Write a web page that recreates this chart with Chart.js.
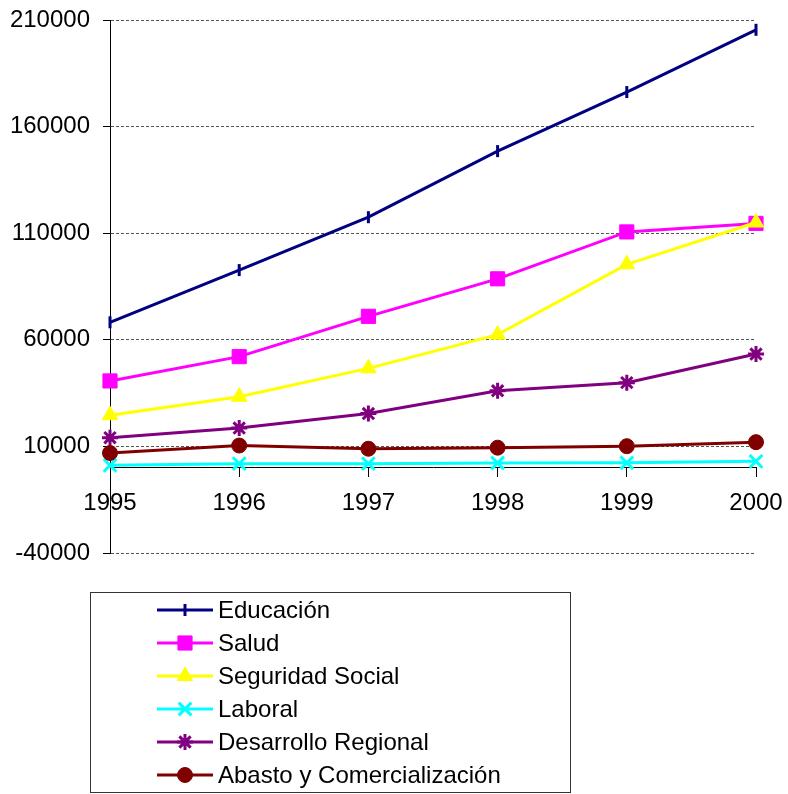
<!DOCTYPE html>
<html>
<head>
<meta charset="utf-8">
<script src="https://cdn.jsdelivr.net/npm/chart.js@4/dist/chart.umd.min.js"></script>
<style>
  html, body { margin: 0; padding: 0; background: #fff; }
  #chart { display: block; }
</style>
</head>
<body>
<canvas id="chart" width="788" height="794"></canvas>
<script>
// Data
const years = ['1995', '1996', '1997', '1998', '1999', '2000'];
const yTicks = [-40000, 10000, 60000, 110000, 160000, 210000];

const educacion = [68200, 92700, 117500, 148500, 176200, 205400];
const salud = [40700, 52100, 71000, 88600, 110600, 114600];
const seguridadSocial = [24600, 33300, 46600, 62400, 95400, 115000];
const laboral = [1100, 1900, 1900, 2200, 2300, 3000];
const desarrolloRegional = [14100, 18600, 25400, 36100, 39900, 53300];
const abasto = [6900, 10400, 8900, 9400, 10100, 12000];

const FONT = '"Liberation Sans", Arial, sans-serif';

function series(label, data, color, style, radius, rotation, pointBorder) {
    return {
        label: label,
        data: data,
        borderColor: color,
        backgroundColor: color,
        borderWidth: 3,
        tension: 0,
        pointStyle: style,
        pointRadius: radius,
        pointHoverRadius: radius,
        pointRotation: rotation,
        pointBorderWidth: pointBorder,
        pointBackgroundColor: color,
        pointBorderColor: color
    };
}

const datasets = [
    series('Educación', educacion, '#000080', 'line', 6, 90, 3),
    series('Salud', salud, '#FF00FF', 'rect', 10, 0, 1),
    series('Seguridad Social', seguridadSocial, '#FFFF00', 'triangle', 9, 0, 1),
    series('Laboral', laboral, '#00FFFF', 'crossRot', 9, 0, 3),
    series('Desarrollo Regional', desarrolloRegional, '#800080', 'star', 8, 0, 3),
    series('Abasto y Comercialización', abasto, '#800000', 'circle', 7.5, 0, 1)
];
// later series drawn on top
datasets.forEach((d, i) => { d.order = -i; });

// no automatic label padding, so the plot area is set by layout.padding alone
function noPad(s) {
    s.paddingTop = 0;
    s.paddingBottom = 0;
    s.paddingLeft = 0;
    s.paddingRight = 0;
}

// Legend box below the plot, with line + marker samples
const boxLegend = {
    id: 'boxLegend',
    afterDraw(chart) {
        const ctx = chart.ctx;
        ctx.save();
        ctx.strokeStyle = '#333';
        ctx.lineWidth = 1;
        ctx.setLineDash([]);
        ctx.strokeRect(90.5, 592.5, 480, 200);

        chart.data.datasets.forEach((ds, i) => {
            const y = 610 + i * 33;
            ctx.strokeStyle = ds.borderColor;
            ctx.fillStyle = ds.backgroundColor;
            ctx.lineWidth = 3;
            ctx.beginPath();
            ctx.moveTo(157, y);
            ctx.lineTo(213, y);
            ctx.stroke();
            ctx.lineWidth = ds.pointBorderWidth;
            Chart.helpers.drawPoint(ctx, {
                pointStyle: ds.pointStyle,
                radius: ds.pointRadius,
                rotation: ds.pointRotation,
                borderWidth: ds.pointBorderWidth
            }, 185, y);

            ctx.fillStyle = '#000';
            ctx.font = '24px ' + FONT;
            ctx.textBaseline = 'middle';
            ctx.textAlign = 'left';
            ctx.fillText(ds.label, 218, y + 1);
        });
        ctx.restore();
    }
};

new Chart(document.getElementById('chart'), {
    type: 'line',
    data: { labels: years, datasets: datasets },
    plugins: [boxLegend],
    options: {
        responsive: false,
        animation: false,
        layout: { padding: { left: 0, right: 32, top: 20, bottom: 241 } },
        plugins: {
            legend: { display: false },
            tooltip: { enabled: false }
        },
        scales: {
            x: {
                position: { y: 0 },
                offset: false,
                afterFit: noPad,
                grid: { drawOnChartArea: false, drawTicks: true, tickLength: 9, color: '#000' },
                border: { display: true, color: '#000', width: 1 },
                ticks: {
                    color: '#000',
                    font: { family: FONT, size: 24 },
                    padding: 12,
                    maxRotation: 0,
                    autoSkip: false
                }
            },
            y: {
                min: -40000,
                max: 210000,
                afterBuildTicks: s => { s.ticks = yTicks.map(v => ({ value: v })); },
                afterFit: s => { noPad(s); s.width = 110; },
                grid: { color: '#555', tickColor: '#000', tickLength: 7, drawTicks: true },
                border: { display: true, color: '#000', width: 1, dash: [3, 2] },
                ticks: {
                    color: '#000',
                    font: { family: FONT, size: 24 },
                    padding: 13,
                    callback: v => String(v)
                }
            }
        }
    }
});
</script>
</body>
</html>
